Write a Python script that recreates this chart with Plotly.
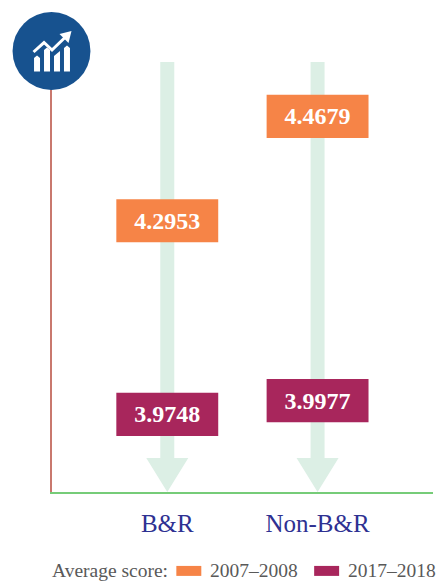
import plotly.graph_objects as go

categories = ["B&R", "Non-B&R"]
score_2007_2008 = [4.2953, 4.4679]
score_2017_2018 = [3.9748, 3.9977]
series_names = ["2007–2008", "2017–2018"]
legend_title = "Average score:"

W, H = 437, 581
L, R, T, B = 51.5, 433, 62, 492.5
Y_MIN, Y_MAX = 3.8464, 4.5580
X_RANGE = [-0.767, 1.768]

ORANGE, PURPLE, PALE, BLUE = "#f68447", "#a8265c", "#dcefe5", "#17528f"
SERIF = "Liberation Serif"
BOX_HALF = 0.0357


def px(x):
    return (x - L) / (R - L)


def py(y):
    return (B - y) / (B - T)


def paper_path(points, close=True):
    d = "M" + " L".join(f"{px(x):.5f},{py(y):.5f}" for x, y in points)
    return d + (" Z" if close else "")


def solid(points, color="white"):
    return dict(type="path", xref="paper", yref="paper", path=paper_path(points), opacity=1,
                fillcolor=color, line=dict(width=0), layer="above")


fig = go.Figure()

for name, vals, col in [(series_names[0], score_2007_2008, ORANGE),
                        (series_names[1], score_2017_2018, PURPLE)]:
    fig.add_trace(go.Bar(
        x=categories, y=[2 * BOX_HALF] * 2, base=[v - BOX_HALF for v in vals], width=0.678,
        name=name, opacity=1, marker=dict(color=col, opacity=1, line=dict(width=0)),
        text=[f"{v:.4f}" for v in vals], textposition="inside", insidetextanchor="middle",
        textangle=0, constraintext="none",
        textfont=dict(family=SERIF, size=24, color="white", weight="bold"),
    ))

shapes = []
# one pale down-arrow behind each category
for c in categories:
    shapes.append(dict(type="path", xref="x", yref="y", xsizemode="pixel", ysizemode="pixel",
                       xanchor=c, yanchor=Y_MIN, opacity=1,
                       path="M-21,34 L-7,34 L-7,430 L7,430 L7,34 L21,34 L0,0 Z",
                       fillcolor=PALE, line=dict(width=0), layer="below"))

# badge icon
shapes.append(dict(type="circle", xref="paper", yref="paper", x0=px(12), x1=px(90), opacity=1,
                   y0=py(90), y1=py(12), fillcolor=BLUE, line=dict(width=0), layer="above"))
for pts in [
    [(33.5, 71.5), (33.5, 58), (36.5, 55.5), (39.5, 58), (39.5, 71.5)],
    [(43.5, 71.5), (43.5, 50), (46.5, 47.5), (49.5, 50), (49.5, 71.5)],
    [(53.5, 71.5), (53.5, 56), (59.5, 51), (59.5, 71.5)],
    [(63.5, 71.5), (63.5, 48), (66.5, 45.5), (69.5, 48), (69.5, 71.5)],
    [(59, 34), (71, 31), (68, 43)],
]:
    shapes.append(solid(pts))
shapes.append(dict(type="path", xref="paper", yref="paper", opacity=1,
                   path=paper_path([(33, 52), (43.5, 42.5), (51.5, 50), (65, 37)], close=False),
                   line=dict(color="white", width=3), layer="above"))

# legend swatches
LEG_Y = 571.5
for x0, col in [(176, ORANGE), (314, PURPLE)]:
    shapes.append(dict(type="rect", xref="paper", yref="paper", x0=px(x0), x1=px(x0 + 25), opacity=1,
                       y0=py(LEG_Y + 5), y1=py(LEG_Y - 5), fillcolor=col,
                       line=dict(width=0), layer="above"))

annotations = []
for x0, txt in [(52, legend_title), (209.5, series_names[0]), (347.5, series_names[1])]:
    annotations.append(dict(xref="paper", yref="paper", x=px(x0), y=py(LEG_Y - 0.5), text=txt,
                            showarrow=False, xanchor="left", yanchor="middle", xshift=-2,
                            font=dict(family=SERIF, size=19.5, color="#595959")))

fig.update_layout(
    template="none",
    width=W, height=H, margin=dict(l=L, r=W - R, t=T, b=H - B, pad=0),
    paper_bgcolor="white", plot_bgcolor="white", barmode="overlay", showlegend=False,
    shapes=shapes, annotations=annotations,
    xaxis=dict(type="category", range=X_RANGE, showgrid=False, zeroline=False,
               showline=True, linecolor="#76cc78", linewidth=1.5,
               ticks="outside", ticklen=8, tickcolor="rgba(0,0,0,0)",
               tickfont=dict(family=SERIF, size=25, color="#2e3192")),
    yaxis=dict(range=[Y_MIN, Y_MAX], showgrid=False, zeroline=False, showticklabels=False,
               ticks="", showline=True, linecolor="#c9786e", linewidth=1.5),
)

fig.write_html("out.html", config=dict(displayModeBar=False),
               post_script="document.body.style.margin='0';")
